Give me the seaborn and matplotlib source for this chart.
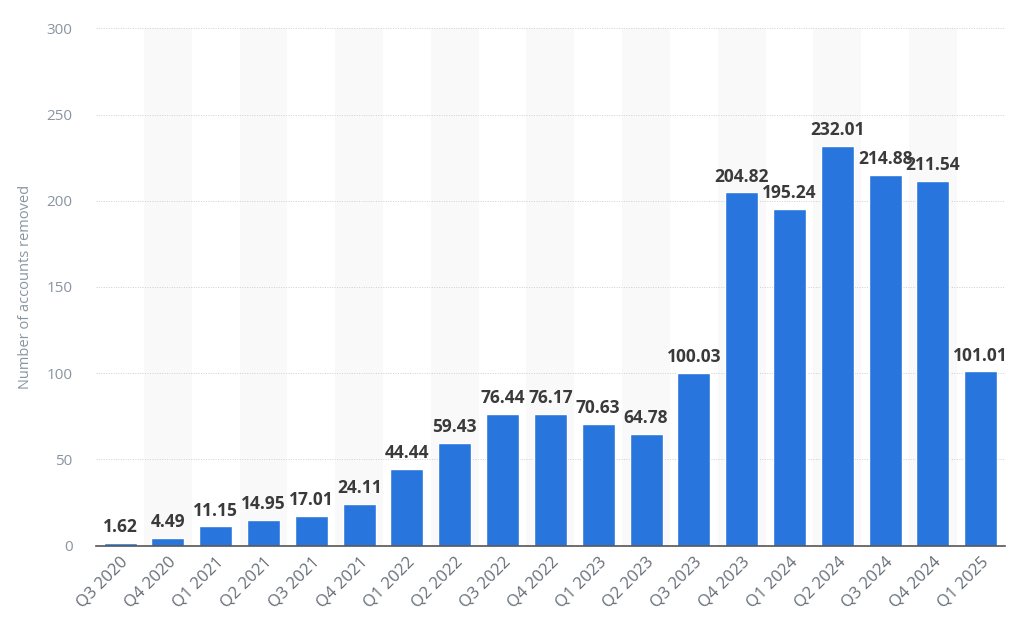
import numpy as np
import pandas as pd
import matplotlib
matplotlib.use('Agg')
import matplotlib.pyplot as plt
import seaborn as sns

quarters = ['Q3 2020', 'Q4 2020', 'Q1 2021', 'Q2 2021', 'Q3 2021', 'Q4 2021',
            'Q1 2022', 'Q2 2022', 'Q3 2022', 'Q4 2022', 'Q1 2023', 'Q2 2023',
            'Q3 2023', 'Q4 2023', 'Q1 2024', 'Q2 2024', 'Q3 2024', 'Q4 2024',
            'Q1 2025']
accounts = [1.62, 4.49, 11.15, 14.95, 17.01, 24.11, 44.44, 59.43, 76.44, 76.17,
            70.63, 64.78, 100.03, 204.82, 195.24, 232.01, 214.88, 211.54, 101.01]
y_ticks = [0, 50, 100, 150, 200, 250, 300]

df = pd.DataFrame({'quarter': quarters, 'accounts': accounts})

sns.set_style('white')
plt.rcParams['font.family'] = ['Open Sans', 'DejaVu Sans']

fig = plt.figure(figsize=(10.24, 6.28), dpi=100)
ax = fig.add_axes([0.094, 0.131, 0.887, 0.824])

# alternating column shading
for i in range(len(quarters)):
    if i % 2 == 1:
        ax.axvspan(i - 0.5, i + 0.5, color='#f9f9f9', zorder=0, lw=0)

sns.barplot(data=df, x='quarter', y='accounts', color='#2876dd', saturation=1,
            width=0.69, ax=ax, zorder=3)

for i, v in enumerate(accounts):
    ax.text(i, v + 4, f'{v:.2f}', ha='center', va='bottom', fontsize=12.5,
            fontweight='bold', color='#3a3a3a', zorder=4)

ax.set_xlim(-0.5, len(quarters) - 0.5)
ax.set_ylim(0, 300)
ax.set_yticks(y_ticks)
ax.yaxis.grid(True, linestyle=(0, (1, 1.5)), color='#cfcfcf', lw=0.7, zorder=1)
ax.set_axisbelow(True)
for s in ['top', 'right', 'left']:
    ax.spines[s].set_visible(False)
ax.spines['bottom'].set_color('#555555')
ax.spines['bottom'].set_linewidth(1.2)
ax.spines['bottom'].set_zorder(5)

ax.tick_params(axis='y', length=0, pad=17, labelsize=11, labelcolor='#8a94a0')
ax.tick_params(axis='x', length=0, pad=6, labelsize=12, labelcolor='#666e78')
plt.setp(ax.get_xticklabels(), rotation=45, ha='right', rotation_mode='anchor')

ax.set_xlabel('')
ax.set_ylabel('Number of accounts removed', fontsize=10.5, color='#8a94a0', labelpad=10)

fig.savefig('out.png', dpi=100)
